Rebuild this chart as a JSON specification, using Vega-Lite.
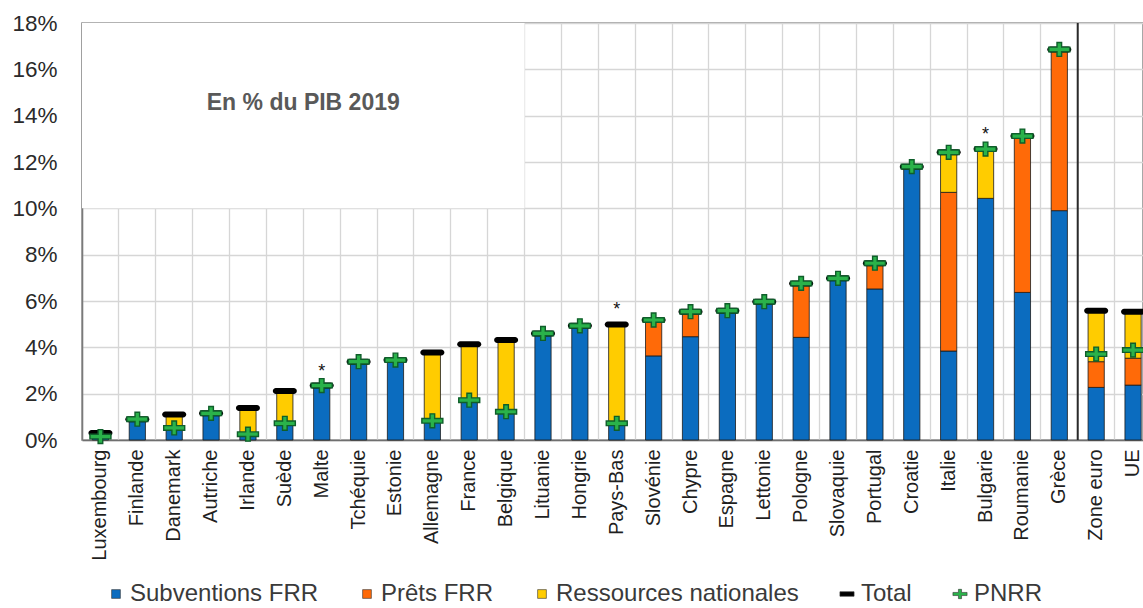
{
  "$schema": "https://vega.github.io/schema/vega-lite/v6.json",
  "width": 1061,
  "height": 417,
  "autosize": {"type": "none"},
  "padding": {"left": 82, "top": 23, "right": 0, "bottom": 168},
  "background": "white",
  "config": {
    "font": "Liberation Sans",
    "view": {"stroke": "#8a8a8a", "strokeWidth": 1.5}
  },
  "datasets": {
    "barres": [
      {"pays": "Luxembourg", "serie": "Subventions FRR", "valeur": 0.25},
      {"pays": "Luxembourg", "serie": "Ressources nationales", "valeur": 0.05},
      {"pays": "Finlande", "serie": "Subventions FRR", "valeur": 0.9},
      {"pays": "Danemark", "serie": "Subventions FRR", "valeur": 0.55},
      {"pays": "Danemark", "serie": "Ressources nationales", "valeur": 0.55},
      {"pays": "Autriche", "serie": "Subventions FRR", "valeur": 1.15},
      {"pays": "Irlande", "serie": "Subventions FRR", "valeur": 0.3},
      {"pays": "Irlande", "serie": "Ressources nationales", "valeur": 1.08},
      {"pays": "Suède", "serie": "Subventions FRR", "valeur": 0.75},
      {"pays": "Suède", "serie": "Ressources nationales", "valeur": 1.37},
      {"pays": "Malte", "serie": "Subventions FRR", "valeur": 2.35},
      {"pays": "Tchéquie", "serie": "Subventions FRR", "valeur": 3.38},
      {"pays": "Estonie", "serie": "Subventions FRR", "valeur": 3.45},
      {"pays": "Allemagne", "serie": "Subventions FRR", "valeur": 0.85},
      {"pays": "Allemagne", "serie": "Ressources nationales", "valeur": 2.93},
      {"pays": "France", "serie": "Subventions FRR", "valeur": 1.72},
      {"pays": "France", "serie": "Ressources nationales", "valeur": 2.41},
      {"pays": "Belgique", "serie": "Subventions FRR", "valeur": 1.25},
      {"pays": "Belgique", "serie": "Ressources nationales", "valeur": 3.07},
      {"pays": "Lituanie", "serie": "Subventions FRR", "valeur": 4.6},
      {"pays": "Hongrie", "serie": "Subventions FRR", "valeur": 4.93},
      {"pays": "Pays-Bas", "serie": "Subventions FRR", "valeur": 0.72},
      {"pays": "Pays-Bas", "serie": "Ressources nationales", "valeur": 4.27},
      {"pays": "Slovénie", "serie": "Subventions FRR", "valeur": 3.63},
      {"pays": "Slovénie", "serie": "Prêts FRR", "valeur": 1.55},
      {"pays": "Chypre", "serie": "Subventions FRR", "valeur": 4.46},
      {"pays": "Chypre", "serie": "Prêts FRR", "valeur": 1.08},
      {"pays": "Espagne", "serie": "Subventions FRR", "valeur": 5.58},
      {"pays": "Lettonie", "serie": "Subventions FRR", "valeur": 5.97},
      {"pays": "Pologne", "serie": "Subventions FRR", "valeur": 4.43},
      {"pays": "Pologne", "serie": "Prêts FRR", "valeur": 2.33},
      {"pays": "Slovaquie", "serie": "Subventions FRR", "valeur": 6.98},
      {"pays": "Portugal", "serie": "Subventions FRR", "valeur": 6.52},
      {"pays": "Portugal", "serie": "Prêts FRR", "valeur": 1.11},
      {"pays": "Croatie", "serie": "Subventions FRR", "valeur": 11.8},
      {"pays": "Italie", "serie": "Subventions FRR", "valeur": 3.84},
      {"pays": "Italie", "serie": "Prêts FRR", "valeur": 6.85},
      {"pays": "Italie", "serie": "Ressources nationales", "valeur": 1.73},
      {"pays": "Bulgarie", "serie": "Subventions FRR", "valeur": 10.43},
      {"pays": "Bulgarie", "serie": "Ressources nationales", "valeur": 2.13},
      {"pays": "Roumanie", "serie": "Subventions FRR", "valeur": 6.37},
      {"pays": "Roumanie", "serie": "Prêts FRR", "valeur": 6.75},
      {"pays": "Grèce", "serie": "Subventions FRR", "valeur": 9.9},
      {"pays": "Grèce", "serie": "Prêts FRR", "valeur": 6.96},
      {"pays": "Zone euro", "serie": "Subventions FRR", "valeur": 2.27},
      {"pays": "Zone euro", "serie": "Prêts FRR", "valeur": 1.11},
      {"pays": "Zone euro", "serie": "Ressources nationales", "valeur": 2.2},
      {"pays": "UE", "serie": "Subventions FRR", "valeur": 2.37},
      {"pays": "UE", "serie": "Prêts FRR", "valeur": 1.16},
      {"pays": "UE", "serie": "Ressources nationales", "valeur": 2.01}
    ],
    "reperes": [
      {"pays": "Luxembourg", "serie": "Total", "valeur": 0.3, "note": ""},
      {"pays": "Finlande", "serie": "Total", "valeur": 0.9, "note": ""},
      {"pays": "Danemark", "serie": "Total", "valeur": 1.1, "note": ""},
      {"pays": "Autriche", "serie": "Total", "valeur": 1.15, "note": ""},
      {"pays": "Irlande", "serie": "Total", "valeur": 1.38, "note": ""},
      {"pays": "Suède", "serie": "Total", "valeur": 2.12, "note": ""},
      {"pays": "Malte", "serie": "Total", "valeur": 2.35, "note": "*"},
      {"pays": "Tchéquie", "serie": "Total", "valeur": 3.38, "note": ""},
      {"pays": "Estonie", "serie": "Total", "valeur": 3.45, "note": ""},
      {"pays": "Allemagne", "serie": "Total", "valeur": 3.78, "note": ""},
      {"pays": "France", "serie": "Total", "valeur": 4.13, "note": ""},
      {"pays": "Belgique", "serie": "Total", "valeur": 4.32, "note": ""},
      {"pays": "Lituanie", "serie": "Total", "valeur": 4.6, "note": ""},
      {"pays": "Hongrie", "serie": "Total", "valeur": 4.93, "note": ""},
      {"pays": "Pays-Bas", "serie": "Total", "valeur": 4.99, "note": "*"},
      {"pays": "Slovénie", "serie": "Total", "valeur": 5.18, "note": ""},
      {"pays": "Chypre", "serie": "Total", "valeur": 5.54, "note": ""},
      {"pays": "Espagne", "serie": "Total", "valeur": 5.58, "note": ""},
      {"pays": "Lettonie", "serie": "Total", "valeur": 5.97, "note": ""},
      {"pays": "Pologne", "serie": "Total", "valeur": 6.76, "note": ""},
      {"pays": "Slovaquie", "serie": "Total", "valeur": 6.98, "note": ""},
      {"pays": "Portugal", "serie": "Total", "valeur": 7.63, "note": ""},
      {"pays": "Croatie", "serie": "Total", "valeur": 11.8, "note": ""},
      {"pays": "Italie", "serie": "Total", "valeur": 12.42, "note": ""},
      {"pays": "Bulgarie", "serie": "Total", "valeur": 12.56, "note": "*"},
      {"pays": "Roumanie", "serie": "Total", "valeur": 13.12, "note": ""},
      {"pays": "Grèce", "serie": "Total", "valeur": 16.86, "note": ""},
      {"pays": "Zone euro", "serie": "Total", "valeur": 5.58, "note": ""},
      {"pays": "UE", "serie": "Total", "valeur": 5.54, "note": ""},
      {"pays": "Luxembourg", "serie": "PNRR", "valeur": 0.15, "note": ""},
      {"pays": "Finlande", "serie": "PNRR", "valeur": 0.9, "note": ""},
      {"pays": "Danemark", "serie": "PNRR", "valeur": 0.52, "note": ""},
      {"pays": "Autriche", "serie": "PNRR", "valeur": 1.15, "note": ""},
      {"pays": "Irlande", "serie": "PNRR", "valeur": 0.25, "note": ""},
      {"pays": "Suède", "serie": "PNRR", "valeur": 0.72, "note": ""},
      {"pays": "Malte", "serie": "PNRR", "valeur": 2.35, "note": ""},
      {"pays": "Tchéquie", "serie": "PNRR", "valeur": 3.38, "note": ""},
      {"pays": "Estonie", "serie": "PNRR", "valeur": 3.45, "note": ""},
      {"pays": "Allemagne", "serie": "PNRR", "valeur": 0.83, "note": ""},
      {"pays": "France", "serie": "PNRR", "valeur": 1.72, "note": ""},
      {"pays": "Belgique", "serie": "PNRR", "valeur": 1.22, "note": ""},
      {"pays": "Lituanie", "serie": "PNRR", "valeur": 4.6, "note": ""},
      {"pays": "Hongrie", "serie": "PNRR", "valeur": 4.93, "note": ""},
      {"pays": "Pays-Bas", "serie": "PNRR", "valeur": 0.72, "note": ""},
      {"pays": "Slovénie", "serie": "PNRR", "valeur": 5.18, "note": ""},
      {"pays": "Chypre", "serie": "PNRR", "valeur": 5.54, "note": ""},
      {"pays": "Espagne", "serie": "PNRR", "valeur": 5.58, "note": ""},
      {"pays": "Lettonie", "serie": "PNRR", "valeur": 5.97, "note": ""},
      {"pays": "Pologne", "serie": "PNRR", "valeur": 6.76, "note": ""},
      {"pays": "Slovaquie", "serie": "PNRR", "valeur": 6.98, "note": ""},
      {"pays": "Portugal", "serie": "PNRR", "valeur": 7.63, "note": ""},
      {"pays": "Croatie", "serie": "PNRR", "valeur": 11.8, "note": ""},
      {"pays": "Italie", "serie": "PNRR", "valeur": 12.42, "note": ""},
      {"pays": "Bulgarie", "serie": "PNRR", "valeur": 12.56, "note": ""},
      {"pays": "Roumanie", "serie": "PNRR", "valeur": 13.12, "note": ""},
      {"pays": "Grèce", "serie": "PNRR", "valeur": 16.86, "note": ""},
      {"pays": "Zone euro", "serie": "PNRR", "valeur": 3.71, "note": ""},
      {"pays": "UE", "serie": "PNRR", "valeur": 3.88, "note": ""}
    ]
  },
  "encoding": {
    "x": {
      "field": "pays",
      "type": "nominal",
      "scale": {
        "domain": ["Luxembourg", "Finlande", "Danemark", "Autriche", "Irlande", "Suède", "Malte", "Tchéquie", "Estonie", "Allemagne", "France", "Belgique", "Lituanie", "Hongrie", "Pays-Bas", "Slovénie", "Chypre", "Espagne", "Lettonie", "Pologne", "Slovaquie", "Portugal", "Croatie", "Italie", "Bulgarie", "Roumanie", "Grèce", "Zone euro", "UE"],
        "paddingInner": 0,
        "paddingOuter": 0,
        "range": [0, 1069.5]
      },
      "axis": {
        "title": null,
        "zindex": 0,
        "bandPosition": 0,
        "labelAngle": -90,
        "labelAlign": "right",
        "labelBaseline": "middle",
        "labelFont": "Liberation Sans",
        "labelFontSize": 20,
        "labelColor": "#1f1f1f",
        "labelPadding": 9,
        "ticks": false,
        "domain": true,
        "domainColor": "#6f6f6f",
        "domainWidth": 1.5,
        "grid": true,
        "gridColor": "#d6d6d6",
        "gridWidth": 1.3
      }
    }
  },
  "layer": [
    {
      "data": {"values": [{}]},
      "mark": {"type": "rect", "fill": "white", "stroke": null},
      "encoding": {
        "x": {"datum": "Luxembourg", "type": "nominal", "bandPosition": 0},
        "x2": {"datum": "Lituanie", "bandPosition": 0},
        "y": {"datum": 10, "type": "quantitative"},
        "y2": {"datum": 18}
      }
    },
    {
      "data": {"name": "barres"},
      "transform": [
        {"calculate": "indexof(['Subventions FRR','Prêts FRR','Ressources nationales'], datum.serie)", "as": "ordre"}
      ],
      "mark": {"type": "bar", "width": {"band": 0.44}, "stroke": "#1a1a1a", "strokeWidth": 0.8},
      "encoding": {
        "y": {
          "field": "valeur",
          "type": "quantitative",
          "aggregate": "sum",
          "stack": "zero",
          "scale": {"domain": [0, 18], "nice": false},
          "axis": {
            "title": null,
            "zindex": 0,
            "values": [0, 2, 4, 6, 8, 10, 12, 14, 16, 18],
            "labelExpr": "datum.value + '%'",
            "labelFont": "Liberation Sans",
            "labelFontSize": 22.5,
            "labelColor": "#2a2a2a",
            "labelPadding": 25,
            "ticks": false,
            "domain": true,
            "domainColor": "#7a7a7a",
            "domainWidth": 1.5,
            "grid": true,
            "gridColor": "#d6d6d6",
            "gridWidth": 1.3
          }
        },
        "color": {
          "field": "serie",
          "type": "nominal",
          "scale": {
            "domain": ["Subventions FRR", "Prêts FRR", "Ressources nationales", "Total", "PNRR"],
            "range": ["#0b6cbf", "#ff6a08", "#ffcc00", "#000000", "#2ab24a"]
          },
          "legend": {
            "orient": "none",
            "legendX": 22,
            "legendY": 559,
            "direction": "horizontal",
            "title": null,
            "labelFont": "Liberation Sans",
            "labelFontSize": 24,
            "labelColor": "#3a3a3a",
            "labelLimit": 400,
            "labelOffset": 2,
            "symbolSize": 200,
            "symbolStrokeColor": "#333333",
            "symbolStrokeWidth": 0.6,
            "columnPadding": 36
          }
        },
        "order": {"field": "ordre", "type": "quantitative"}
      }
    },
    {
      "data": {"values": [{}]},
      "mark": {"type": "rule", "color": "#2a2a2a", "strokeWidth": 2},
      "encoding": {
        "x": {"datum": "Zone euro", "type": "nominal", "bandPosition": 0}
      }
    },
    {
      "data": {"name": "reperes"},
      "transform": [{"filter": "datum.serie === 'Total'"}],
      "mark": {"type": "tick", "size": 24, "thickness": 6, "cornerRadius": 3, "opacity": 1},
      "encoding": {
        "y": {"field": "valeur", "type": "quantitative"},
        "color": {"field": "serie", "type": "nominal"}
      }
    },
    {
      "data": {"name": "reperes"},
      "transform": [{"filter": "datum.serie === 'PNRR'"}],
      "mark": {
        "type": "point",
        "size": 441,
        "filled": true,
        "stroke": "#0f5e2b",
        "strokeWidth": 1.4,
        "opacity": 1
      },
      "encoding": {
        "y": {"field": "valeur", "type": "quantitative"},
        "color": {"field": "serie", "type": "nominal"},
        "shape": {
          "field": "serie",
          "type": "nominal",
          "scale": {
            "domain": ["Subventions FRR", "Prêts FRR", "Ressources nationales", "Total", "PNRR"],
            "range": ["M-0.62,-0.62H0.62V0.62H-0.62Z", "M-0.62,-0.62H0.62V0.62H-0.62Z", "M-0.62,-0.62H0.62V0.62H-0.62Z", "M-1,-0.32H1V0.32H-1Z", "M-1,-0.22H-0.22V-0.66H0.22V-0.22H1V0.22H0.22V0.66H-0.22V0.22H-1Z"]
          },
          "legend": {
            "orient": "none",
            "legendX": 22,
            "legendY": 559,
            "direction": "horizontal",
            "title": null,
            "labelFont": "Liberation Sans",
            "labelFontSize": 24,
            "labelColor": "#3a3a3a",
            "labelLimit": 400,
            "labelOffset": 2,
            "symbolSize": 200,
            "symbolStrokeColor": "#333333",
            "symbolStrokeWidth": 0.6,
            "columnPadding": 36
          }
        }
      }
    },
    {
      "data": {"name": "reperes"},
      "transform": [{"filter": "datum.note !== ''"}],
      "mark": {"type": "text", "fontSize": 18, "color": "#111111", "baseline": "alphabetic", "dy": -9},
      "encoding": {
        "y": {"field": "valeur", "type": "quantitative"},
        "text": {"field": "note"}
      }
    },
    {
      "data": {"values": [{}]},
      "mark": {"type": "text", "text": "En % du PIB 2019", "font": "Liberation Sans", "fontSize": 23, "fontWeight": "bold", "color": "#595959", "align": "center", "baseline": "middle"},
      "encoding": {
        "x": {"datum": "Malte", "type": "nominal", "bandPosition": 0},
        "y": {"datum": 14.55, "type": "quantitative"}
      }
    }
  ]
}
